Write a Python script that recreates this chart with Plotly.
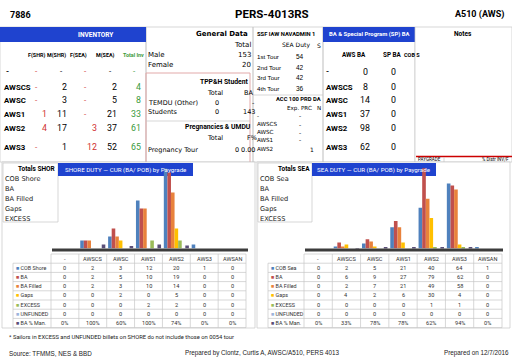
import plotly.graph_objects as go

W, H = 512, 360
def X(p): return p / W
def Y(p): return 1 - p / H

NARROW = "Roboto, Liberation Sans, sans-serif"
REG = "DejaVu Sans, Verdana, sans-serif"
LIB = "Liberation Sans, Arial, sans-serif"
BLUE = "#1f43cf"
GRID = "#c6c6c6"
RED = "#d03030"
GREEN = "#3a9a3a"

# ---------------- data ----------------
paygrades = ["-", "AWSCS", "AWSC", "AWS1", "AWS2", "AWS3", "AWSAN"]
series_shore = ["COB Shore", "BA", "BA Filled", "Gaps", "EXCESS", "UNFUNDED", "BA % Man."]
series_sea = ["COB Sea", "BA", "BA Filled", "Gaps", "EXCESS", "UNFUNDED", "BA % Man."]
series_colors = ["#4F81BD", "#C0504D", "#E8823C", "#FFC000", "#9BBB59", "#9DB3DB", "#5A4E78"]

shore_cob = [0, 2, 3, 12, 20, 1, 0]
shore_ba = [0, 2, 5, 10, 19, 0, 0]
shore_ba_filled = [0, 2, 3, 10, 14, 0, 0]
shore_gaps = [0, 0, 2, 0, 5, 0, 0]
shore_excess = [0, 0, 0, 2, 2, 0, 0]
shore_unfunded = [0, 0, 0, 0, 0, 0, 0]
shore_pct = [0, 100, 60, 100, 74, 0, 0]

sea_cob = [0, 2, 5, 21, 40, 64, 1]
sea_ba = [0, 6, 9, 27, 79, 62, 0]
sea_ba_filled = [0, 2, 7, 21, 49, 58, 0]
sea_gaps = [0, 4, 2, 6, 30, 4, 0]
sea_excess = [0, 0, 0, 0, 1, 1, 0]
sea_unfunded = [0, 0, 0, 0, 0, 0, 0]
sea_pct = [0, 33, 78, 78, 62, 94, 0]

inv_rows = ["-", "AWSCS", "AWSC", "AWS1", "AWS2", "AWS3"]
inv_cols = ["F(SHR)", "M(SHR)", "F(SEA)", "M(SEA)", "Total Inv"]
inv_f_shr = ["-", "-", "-", "1", "4", "-"]
inv_m_shr = ["-", "2", "3", "11", "17", "1"]
inv_f_sea = ["-", "-", "-", "-", "3", "12"]
inv_m_sea = ["-", "2", "5", "21", "37", "52"]
inv_total = ["-", "4", "8", "33", "61", "65"]

gen_labels = ["Male", "Female"]
gen_totals = ["153", "20"]
tpp_labels = ["TEMDU (Other)", "Students"]
tpp_total = ["0", "0"]
tpp_ba = ["-", "143"]
preg_labels = ["Pregnancy Tour"]
preg_total = ["0"]
preg_fpct = ["0.00"]

ssf_tours = ["1st Tour", "2nd Tour", "3rd Tour", "4th Tour"]
ssf_sea = ["54", "42", "42", "36"]
acc_rows = ["-", "AWSCS", "AWSC", "AWS1", "AWS2"]
acc_exp = ["-", "-", "-", "-", ""]
acc_n = ["", "", "", "", "1"]

ba_rows = ["-", "AWSCS", "AWSC", "AWS1", "AWS2", "AWS3"]
ba_aws = ["0", "8", "14", "37", "98", "62"]
ba_sp = ["0", "0", "0", "0", "0", "0"]

# ---------------- helpers ----------------
ann = []
shapes = []

def T(x, y, text, size=7, color="#000", family=REG, xanchor="center", bold=False):
    if bold:
        text = "<b>" + text + "</b>"
    ann.append(dict(x=X(x), y=Y(y), xref="paper", yref="paper", text=text, showarrow=False,
                    xanchor=xanchor, yanchor="middle", borderpad=0,
                    font=dict(size=size, color=color, family=family)))

def R(x0, y0, x1, y1, fill=None, line=None, lw=0.7, layer="below"):
    shapes.append(dict(type="rect", xref="paper", yref="paper", x0=X(x0), x1=X(x1), y0=Y(y1), y1=Y(y0),
                       fillcolor=fill if fill else "rgba(0,0,0,0)",
                       line=dict(color=line if line else "rgba(0,0,0,0)", width=lw if line else 0),
                       layer=layer))

def L(x0, y0, x1, y1, color=GRID, lw=0.7, layer="below"):
    shapes.append(dict(type="line", xref="paper", yref="paper", x0=X(x0), x1=X(x1), y0=Y(y0), y1=Y(y1),
                       line=dict(color=color, width=lw), layer=layer))

# ---------------- header ----------------
T(9, 15, "7886", 9, family=NARROW, xanchor="left", bold=True)
T(272, 14, "PERS-4013RS", 11.5, family=NARROW, bold=True)
T(505, 15, "A510 (AWS)", 9, family=NARROW, xanchor="right", bold=True)

# ---------------- top panels ----------------
R(0, 27, 146, 162, line=GRID)
R(146, 27, 253, 162, line=GRID)
R(253, 27, 323, 162, line=GRID)
R(323, 27, 415, 162, line=GRID)

# Inventory
R(0, 27, 146, 42, fill=BLUE)
T(96, 35, "INVENTORY", 6.5, "#fff", NARROW, bold=True)
inv_head_x = [36, 56, 78, 105, 133]
inv_val_x = [48, 68, 98, 118, 142]
inv_dash_x = [36, 61, 85, 110, 134]
for j, h in enumerate(inv_cols):
    T(inv_head_x[j], 55, h, 5.4, GREEN if j == 4 else "#000", NARROW, bold=True)
inv_cols_data = [inv_f_shr, inv_m_shr, inv_f_sea, inv_m_sea, inv_total]
inv_col_colors = [RED, "#000", RED, "#000", GREEN]
inv_row_y = [72, 87, 100, 114, 128, 147]
for i, r in enumerate(inv_rows):
    T(3 if r != "-" else 5, inv_row_y[i], r, 7.8, "#000", NARROW, xanchor="left", bold=True)
    for j, col in enumerate(inv_cols_data):
        v = col[i]
        if v == "-":
            T(inv_dash_x[j], inv_row_y[i], "-", 8, inv_col_colors[j], NARROW)
        else:
            T(inv_val_x[j], inv_row_y[i], v, 8.8, inv_col_colors[j], NARROW, xanchor="right")

# General data
T(222, 34, "General Data", 7, bold=True)
T(252, 45, "Total", 7, xanchor="right")
gen_y = [55, 65]
for i, lab in enumerate(gen_labels):
    T(147, gen_y[i], lab, 7, xanchor="left")
    T(252, gen_y[i], gen_totals[i], 7, xanchor="right")
R(146, 73, 250, 163, line="#e2a9a9", lw=1)
L(146, 121, 250, 121, GRID)
T(224, 82, "TPP&amp;H Student", 6.8, family=NARROW, bold=True)
T(215, 93, "Total", 6.5)
T(248, 93, "BA", 6.5)
tpp_y = [103, 112]
for i, lab in enumerate(tpp_labels):
    T(147, tpp_y[i], lab, 6.5, xanchor="left")
    T(217, tpp_y[i], tpp_total[i], 6.5)
    T(256, tpp_y[i], tpp_ba[i], 6.5, xanchor="right")
T(218, 127, "Pregnancies &amp; UMDU", 6.8, family=NARROW, bold=True)
T(215, 138, "Total", 6.5)
T(252, 138, "F%", 6.5)
for i, lab in enumerate(preg_labels):
    T(147, 150, lab, 6.5, xanchor="left")
    T(237, 150, preg_total[i], 6.5)
    T(256, 150, preg_fpct[i], 6.5, xanchor="right")

# SSF / ACC
T(256, 34, "SSF IAW NAVADMIN 1", 5.8, family=NARROW, xanchor="left", bold=True)
T(296, 45, "SEA Duty", 6.0, family=REG)
T(319, 45, "S", 6.0, family=REG)
tour_y = [56, 67, 77, 88]
for i, lab in enumerate(ssf_tours):
    T(256, tour_y[i], lab, 6.2, xanchor="left", family=LIB)
    T(300, tour_y[i], ssf_sea[i], 6.5, family=LIB)
L(253, 95, 323, 95, GRID)
T(275, 99, "ACC 100 PRD DA", 5.8, family=NARROW, xanchor="left", bold=True)
T(299, 108, "Exp. PRC", 5.6, family=REG)
T(319, 108, "N", 5.6, family=REG)
acc_y = [116, 124, 132, 140, 149]
for i, lab in enumerate(acc_rows):
    T(256, acc_y[i], lab, 5.6, xanchor="left", family=REG)
    if acc_exp[i]:
        T(300, acc_y[i], acc_exp[i], 6)
    if acc_n[i]:
        T(312, acc_y[i], acc_n[i], 6)

# BA & SP
R(323, 27, 415, 42, fill=BLUE)
T(369, 35, "BA &amp; Special Program (SP) BA", 5.9, "#fff", NARROW, bold=True)
T(354, 55, "AWS BA", 6.3, family=NARROW, bold=True)
T(392, 55, "SP BA", 6.3, family=NARROW, bold=True)
T(403, 55, "COB S", 5.5, family=NARROW, xanchor="left", bold=True)
ba_y = [72, 87, 100, 114, 128, 147]
for i, lab in enumerate(ba_rows):
    T(325, ba_y[i], lab, 7.8, family=NARROW, xanchor="left", bold=True)
    T(365, ba_y[i], ba_aws[i], 8.8, family=NARROW)
    T(393, ba_y[i], ba_sp[i], 8.8, family=NARROW)

# Notes
R(415, 27, 512, 162, fill="#fff", line=GRID)
T(463, 34, "Notes", 6.5, family=NARROW, bold=True)
L(416, 156.5, 512, 156.5, "#cc0000", 1.3)
L(444, 157, 444, 162, GRID)
T(429, 159.5, "PAYGRADE", 4.5, family=NARROW)
T(510, 159.5, "% Distr INV/F", 4.5, family=NARROW, xanchor="right")

# ---------------- bottom chart panels ----------------
def panel(px0, px1, totals_title, totals_items, tbx1, title, tx1):
    R(px0, 162, px1, 328, fill="#fff", line=GRID)
    R(px0 + 1, 163, tbx1, 222, fill="#fff", line=GRID)
    T(tbx1 - 1, 169, totals_title, 6.5, family=NARROW, xanchor="right", bold=True)
    for k, it in enumerate(totals_items):
        T(px0 + 2, 179 + 10 * k, it, 6.6, "#222", REG, xanchor="left")
    R(tbx1, 163, tx1, 176, fill=BLUE)
    T((tbx1 + tx1) / 2, 169.5, title, 6.2, "#fff", NARROW)

panel(2, 255, "Totals SHOR", ["COB Shore", "BA", "BA Filled", "Gaps", "EXCESS"], 58,
      "SHORE DUTY \u2014 CUR (BA/ POB) by Paygrade", 193)
panel(257, 510, "Totals SEA", ["COB Sea", "BA", "BA Filled", "Gaps", "EXCESS"], 312,
      "SEA DUTY \u2014 CUR (BA/ POB) by Paygrade", 436)

# floors (3D base)
R(52, 248.5, 248, 251.5, fill="#3c3c3c", layer="above")
R(305, 248.5, 503, 251.5, fill="#3c3c3c", layer="above")

# ---------------- tables ----------------
def data_table(x0, firstw, x_end, ytop, rowh, names, cols_vals):
    ncol = len(paygrades)
    colw = (x_end - x0 - firstw) / ncol
    nrows = len(names)
    xs = [x0 + firstw + colw * j for j in range(ncol + 1)]
    ybot = ytop + rowh * (nrows + 1)
    L(xs[0], ytop, xs[-1], ytop, GRID, 0.7, "above")
    for r in range(1, nrows + 2):
        L(x0, ytop + rowh * r, xs[-1], ytop + rowh * r, GRID, 0.7, "above")
    L(x0, ytop + rowh, x0, ybot, GRID, 0.7, "above")
    for xx in xs:
        L(xx, ytop, xx, ybot, GRID, 0.7, "above")
    for j, pg in enumerate(paygrades):
        T((xs[j] + xs[j + 1]) / 2, ytop + rowh / 2, pg, 5.6, "#333", NARROW)
    for r, nm in enumerate(names):
        yc = ytop + rowh * (r + 1.5)
        T(x0 + 2, yc, "<span style='color:%s'>\u25A0</span> %s" % (series_colors[r], nm),
          5.4, "#333", NARROW, xanchor="left")
        for j in range(ncol):
            T((xs[j] + xs[j + 1]) / 2, yc, cols_vals[r][j], 5.6, "#333", NARROW)

def fmt(vals, pct=False):
    return [("%d%%" % v) if pct else str(v) for v in vals]

shore_series = [shore_cob, shore_ba, shore_ba_filled, shore_gaps, shore_excess, shore_unfunded, shore_pct]
sea_series = [sea_cob, sea_ba, sea_ba_filled, sea_gaps, sea_excess, sea_unfunded, sea_pct]

data_table(13, 38, 246, 254, 9.2, series_shore,
           [fmt(s, pct=(k == 6)) for k, s in enumerate(shore_series)])
data_table(268, 36, 502, 254, 9.2, series_sea,
           [fmt(s, pct=(k == 6)) for k, s in enumerate(sea_series)])

# ---------------- bars ----------------
fig = go.Figure()
for k, s in enumerate(shore_series):
    vals = [v / 100 for v in s] if k == 6 else s
    fig.add_trace(go.Bar(x=paygrades, y=vals, name=series_shore[k], marker_color=series_colors[k],
                         marker_line_width=0, xaxis="x", yaxis="y"))
for k, s in enumerate(sea_series):
    vals = [v / 100 for v in s] if k == 6 else s
    fig.add_trace(go.Bar(x=paygrades, y=vals, name=series_sea[k], marker_color=series_colors[k],
                         marker_line_width=0, xaxis="x2", yaxis="y2"))

# footer
T(8, 337, "* Sailors in EXCESS and UNFUNDED billets on SHORE do not include those on 0054 tour",
  5.8, "#222", NARROW, xanchor="left")
T(8, 353, "Source: TFMMS, NES &amp; BBD", 6.3, "#222", LIB, xanchor="left")
T(262, 353, "Prepared by Clontz, Curtis A, AWSC/A510, PERS 4013", 6.3, "#222", LIB)
T(510, 353, "Prepared on 12/7/2016", 6.3, "#222", LIB, xanchor="right")

ybot_dom = Y(248.5)
ytop_dom = Y(165)
fig.update_layout(
    width=W, height=H, margin=dict(l=0, r=0, t=0, b=0),
    paper_bgcolor="#fff", plot_bgcolor="rgba(0,0,0,0)",
    showlegend=False, barmode="group", bargap=0.1, bargroupgap=0.0,
    xaxis=dict(domain=[X(51), X(246)], visible=False, range=[-0.5, 6.5], fixedrange=True),
    yaxis=dict(domain=[ybot_dom, ytop_dom], visible=False, range=[0, 83.5 / 4.0], fixedrange=True),
    xaxis2=dict(domain=[X(304), X(502)], visible=False, range=[-0.5, 6.5], fixedrange=True, anchor="y2"),
    yaxis2=dict(domain=[ybot_dom, ytop_dom], visible=False, range=[0, 83.5 / 1.016], fixedrange=True, anchor="x2"),
    annotations=ann, shapes=shapes,
)
fig.write_html("out.html")
